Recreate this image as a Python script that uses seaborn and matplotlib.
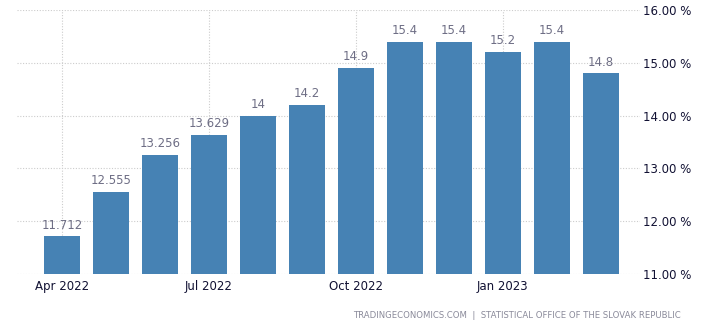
import matplotlib
matplotlib.use("Agg")
import matplotlib.pyplot as plt
import seaborn as sns
import pandas as pd

months = ["2022-04", "2022-05", "2022-06", "2022-07", "2022-08", "2022-09",
          "2022-10", "2022-11", "2022-12", "2023-01", "2023-02", "2023-03"]
values = [11.712, 12.555, 13.256, 13.629, 14.0, 14.2, 14.9, 15.4, 15.4, 15.2, 15.4, 14.8]
value_labels = ["11.712", "12.555", "13.256", "13.629", "14", "14.2", "14.9",
                "15.4", "15.4", "15.2", "15.4", "14.8"]
tick_months = ["2022-04", "2022-07", "2022-10", "2023-01"]
tick_labels = ["Apr 2022", "Jul 2022", "Oct 2022", "Jan 2023"]
yticks = [11, 12, 13, 14, 15, 16]
source = "TRADINGECONOMICS.COM  |  STATISTICAL OFFICE OF THE SLOVAK REPUBLIC"

sns.set_style("white")
plt.rcParams['font.family'] = ['DejaVu Sans']

df = pd.DataFrame({"month": months, "value": values})

fig = plt.figure(figsize=(7.18, 3.31), dpi=100)
ax = fig.add_axes([17/718, 1-274/331, (640-17)/718, (274-10)/331])

sns.barplot(data=df, x="month", y="value", color="#4682b4", width=0.73,
            saturation=1, linewidth=0, edgecolor="none", ax=ax, zorder=3)

ax.set_ylim(11, 16)
ax.set_xlim(-0.92, 11.8)

# value labels
for i, (v, lab) in enumerate(zip(values, value_labels)):
    ax.text(i, v + 0.09, lab, ha="center", va="bottom", fontsize=8.5,
            color="#6e6e85", zorder=4)

# axes styling
ax.yaxis.tick_right()
ax.set_yticks(yticks)
ax.set_yticklabels([f"{t:.2f} %" for t in yticks], fontsize=8.5, color="#111133")
pos = [months.index(m) for m in tick_months]
ax.set_xticks(pos)
ax.set_xticklabels(tick_labels, fontsize=8.5, color="#111133")
ax.tick_params(axis="x", length=0, pad=4)
ax.tick_params(axis="y", length=0, pad=2)
ax.set_xlabel("")
ax.set_ylabel("")

ax.grid(True, axis="both", linestyle=(0, (1, 1.5)), color="#cccccc", linewidth=0.8, zorder=0)
for s in ax.spines.values():
    s.set_visible(False)

fig.text(681/718, 1-316/331, source, ha="right", va="center", fontsize=6.1, color="#8a8a9a")

fig.savefig("out.png", dpi=100)
